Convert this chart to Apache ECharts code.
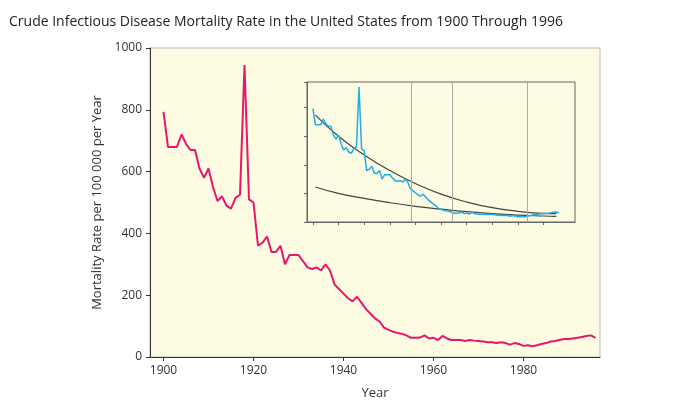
<!DOCTYPE html>
<html><head><meta charset="utf-8">
<script src="https://cdn.jsdelivr.net/npm/echarts@6/dist/echarts.min.js"></script>
<style>html,body{margin:0;background:#fff}#c{width:687px;height:419px}</style>
</head><body><div id="c"></div>
<script>
// crude mortality per 100 000, 1900-1996
var years = [];
for (var y = 1900; y <= 1996; y++) years.push(y);
var rate = [793,680,680,680,720,690,670,670,610,580,
            610,550,505,520,490,480,515,525,945,510,
            500,360,370,390,340,340,360,300,330,330,
            330,310,290,285,290,280,300,280,235,220,
            205,190,180,195,175,155,140,125,115,95,
            88,82,78,75,70,62,62,63,70,60,
            62,55,68,60,55,55,55,52,55,53,
            52,50,48,48,45,48,45,40,45,42,
            36,38,35,38,42,45,50,52,55,58,
            58,60,62,65,68,70,62];
// trend curves
var trendYears = [1901,1910,1920,1930,1940,1950,1960,1970,1980,1990,1995];
var upperTrend = [748,600,470,360,270,195,140,100,75,60,58];
var lowerTrend = [245,200,165,135,110,90,72,58,48,42,40];
var insetMarks = [1938.3,1954.3,1983.6];
var xTicks = [1900,1920,1940,1960,1980];
var insetTicks = [1900,1910,1920,1930,1940,1950,1960,1970,1980,1990];

function pairs(xs, vs) { return xs.map(function (x, i) { return [x, vs[i]]; }); }
function plain(v) { return String(v); }

var chart = echarts.init(document.getElementById('c'));
chart.setOption({
  animation: false,
  title: { text: 'Crude Infectious Disease Mortality Rate in the United States from 1900 Through 1996',
    left: 4, top: 10, textStyle: { fontFamily: 'Open Sans', fontSize: 14, fontWeight: 'normal', color: '#222' } },
  grid: [
    { left: 150, top: 48, right: 87, bottom: 62, show: true, backgroundColor: '#fdfbe2', borderColor: '#bbb', borderWidth: 1 },
    { left: 307, top: 82, width: 268, height: 140, show: true, backgroundColor: '#fdfbe2', borderColor: '#666', borderWidth: 1 }
  ],
  xAxis: [
    { type: 'value', gridIndex: 0, min: 1897, max: 1997, name: 'Year', nameLocation: 'middle', nameGap: 30,
      nameTextStyle: { fontFamily: 'Open Sans', fontSize: 13, color: '#333' },
      axisLine: { lineStyle: { color: '#333' } }, splitLine: { show: false },
      axisTick: { customValues: xTicks, length: 4 },
      axisLabel: { customValues: xTicks, formatter: plain, fontFamily: 'Open Sans', fontSize: 12, color: '#333' } },
    { type: 'value', gridIndex: 1, min: 1897.7, max: 2002.3,
      axisLine: { lineStyle: { color: '#666' } }, splitLine: { show: false },
      axisTick: { customValues: insetTicks, length: 3 }, axisLabel: { show: false } }
  ],
  yAxis: [
    { type: 'value', gridIndex: 0, min: 0, max: 1000, interval: 200, name: 'Mortality Rate per 100 000 per Year',
      nameLocation: 'middle', nameGap: 44, nameTextStyle: { fontFamily: 'Open Sans', fontSize: 13, color: '#333' },
      axisLine: { show: true, lineStyle: { color: '#333' } }, axisTick: { show: true, length: 4 }, splitLine: { show: false },
      axisLabel: { formatter: plain, fontFamily: 'Open Sans', fontSize: 12, color: '#333' } },
    { type: 'value', gridIndex: 1, min: 0, max: 980, interval: 200,
      axisLine: { show: true, lineStyle: { color: '#666' } }, axisTick: { show: true, length: 3 },
      splitLine: { show: false }, axisLabel: { show: false } }
  ],
  series: [
    { type: 'line', xAxisIndex: 0, yAxisIndex: 0, data: pairs(years, rate), symbol: 'none',
      lineStyle: { color: '#e6176b', width: 2 } },
    { type: 'line', xAxisIndex: 1, yAxisIndex: 1, data: pairs(trendYears, upperTrend), symbol: 'none', smooth: true,
      lineStyle: { color: '#444', width: 1.2 } },
    { type: 'line', xAxisIndex: 1, yAxisIndex: 1, data: pairs(trendYears, lowerTrend), symbol: 'none', smooth: true,
      lineStyle: { color: '#444', width: 1.2 } },
    { type: 'line', xAxisIndex: 1, yAxisIndex: 1, data: pairs(years, rate), symbol: 'none',
      lineStyle: { color: '#1eaee8', width: 1.5 },
      markLine: { silent: true, symbol: 'none', label: { show: false },
        lineStyle: { color: '#aaa', type: 'solid', width: 1 },
        data: insetMarks.map(function (v) { return { xAxis: v }; }) } }
  ]
});
</script></body></html>
